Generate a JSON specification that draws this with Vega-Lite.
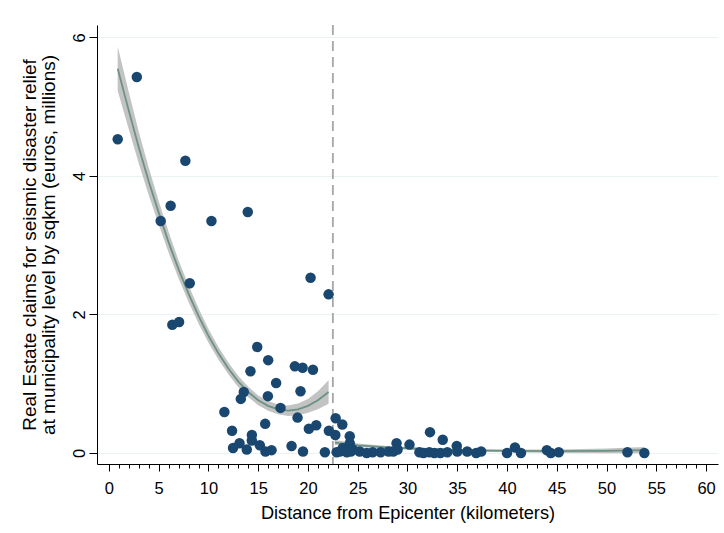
{
  "$schema": "https://vega.github.io/schema/vega-lite/v6.json",
  "width": 621,
  "height": 439,
  "autosize": {"type": "none"},
  "padding": {"left": 97, "top": 25, "right": 6, "bottom": 69},
  "background": "white",
  "config": {"view": {"stroke": null}, "font": "Liberation Sans"},
  "datasets": {
    "pts": [
      {"x":0.88,"y":4.53},{"x":2.8,"y":5.43},{"x":5.2,"y":3.35},{"x":6.2,"y":3.57},{"x":7.68,"y":4.22},
      {"x":10.3,"y":3.35},{"x":13.95,"y":3.48},{"x":8.12,"y":2.45},{"x":6.37,"y":1.85},{"x":7.05,"y":1.89},
      {"x":20.26,"y":2.53},{"x":22.07,"y":2.29},{"x":14.9,"y":1.53},{"x":16.0,"y":1.34},{"x":14.22,"y":1.18},
      {"x":18.68,"y":1.25},{"x":19.46,"y":1.23},{"x":20.5,"y":1.2},{"x":16.8,"y":1.01},{"x":13.55,"y":0.88},
      {"x":13.25,"y":0.78},{"x":15.97,"y":0.82},{"x":19.25,"y":0.89},{"x":17.24,"y":0.65},{"x":11.6,"y":0.59},
      {"x":18.95,"y":0.51},{"x":15.7,"y":0.42},{"x":20.09,"y":0.35},{"x":20.83,"y":0.4},{"x":12.37,"y":0.32},
      {"x":14.36,"y":0.26},{"x":14.36,"y":0.18},{"x":13.12,"y":0.14},{"x":12.47,"y":0.07},{"x":13.85,"y":0.05},
      {"x":15.16,"y":0.11},{"x":15.73,"y":0.02},{"x":16.34,"y":0.04},{"x":18.35,"y":0.1},{"x":19.5,"y":0.02},
      {"x":22.1,"y":0.32},{"x":22.78,"y":0.5},{"x":23.45,"y":0.41},{"x":22.75,"y":0.26},{"x":21.7,"y":0.01},
      {"x":22.88,"y":0.01},{"x":24.2,"y":0.24},{"x":24.2,"y":0.14},{"x":23.5,"y":0.07},{"x":23.2,"y":0.02},
      {"x":24.5,"y":0.05},{"x":23.9,"y":0.01},{"x":24.3,"y":0.02},{"x":25.2,"y":0.02},{"x":25.9,"y":0.0},
      {"x":26.5,"y":0.01},{"x":27.3,"y":0.01},{"x":28.1,"y":0.02},{"x":28.57,"y":0.02},{"x":28.9,"y":0.14},
      {"x":29.0,"y":0.05},{"x":30.2,"y":0.12},{"x":31.2,"y":0.01},{"x":31.6,"y":0.0},{"x":32.26,"y":0.3},
      {"x":32.2,"y":0.01},{"x":32.7,"y":0.0},{"x":33.54,"y":0.19},{"x":33.3,"y":0.0},{"x":34.0,"y":0.01},
      {"x":34.95,"y":0.1},{"x":35.0,"y":0.02},{"x":36.0,"y":0.02},{"x":36.9,"y":0.0},{"x":37.4,"y":0.02},
      {"x":40.0,"y":0.0},{"x":40.8,"y":0.08},{"x":41.4,"y":0.0},{"x":44.0,"y":0.04},{"x":44.4,"y":0.0},
      {"x":45.2,"y":0.01},{"x":52.1,"y":0.01},{"x":53.8,"y":0.0}
    ],
    "fit": [
      {"seg":"L","x":0.88,"fit":5.55,"lo":5.23,"hi":5.87},
      {"seg":"L","x":2,"fit":4.94,"lo":4.67,"hi":5.21},
      {"seg":"L","x":3,"fit":4.41,"lo":4.18,"hi":4.64},
      {"seg":"L","x":4,"fit":3.92,"lo":3.72,"hi":4.12},
      {"seg":"L","x":5,"fit":3.47,"lo":3.30,"hi":3.64},
      {"seg":"L","x":6,"fit":3.04,"lo":2.89,"hi":3.19},
      {"seg":"L","x":7,"fit":2.65,"lo":2.52,"hi":2.78},
      {"seg":"L","x":8,"fit":2.30,"lo":2.18,"hi":2.42},
      {"seg":"L","x":9,"fit":1.98,"lo":1.87,"hi":2.09},
      {"seg":"L","x":10,"fit":1.69,"lo":1.59,"hi":1.79},
      {"seg":"L","x":11,"fit":1.44,"lo":1.35,"hi":1.53},
      {"seg":"L","x":12,"fit":1.22,"lo":1.135,"hi":1.305},
      {"seg":"L","x":13,"fit":1.03,"lo":0.95,"hi":1.11},
      {"seg":"L","x":14,"fit":0.88,"lo":0.805,"hi":0.955},
      {"seg":"L","x":15,"fit":0.76,"lo":0.69,"hi":0.83},
      {"seg":"L","x":16,"fit":0.68,"lo":0.61,"hi":0.75},
      {"seg":"L","x":17,"fit":0.63,"lo":0.56,"hi":0.70},
      {"seg":"L","x":18,"fit":0.61,"lo":0.535,"hi":0.685},
      {"seg":"L","x":19,"fit":0.63,"lo":0.545,"hi":0.715},
      {"seg":"L","x":20,"fit":0.68,"lo":0.58,"hi":0.78},
      {"seg":"L","x":21,"fit":0.76,"lo":0.63,"hi":0.89},
      {"seg":"L","x":22.07,"fit":0.88,"lo":0.71,"hi":1.05},
      {"seg":"R","x":22.7,"fit":0.15,"lo":0.115,"hi":0.185},
      {"seg":"R","x":25,"fit":0.11,"lo":0.085,"hi":0.135},
      {"seg":"R","x":28,"fit":0.08,"lo":0.06,"hi":0.10},
      {"seg":"R","x":31,"fit":0.06,"lo":0.042,"hi":0.078},
      {"seg":"R","x":35,"fit":0.04,"lo":0.022,"hi":0.058},
      {"seg":"R","x":40,"fit":0.03,"lo":0.01,"hi":0.05},
      {"seg":"R","x":45,"fit":0.025,"lo":0.0,"hi":0.05},
      {"seg":"R","x":50,"fit":0.03,"lo":-0.005,"hi":0.065},
      {"seg":"R","x":53.8,"fit":0.04,"lo":-0.005,"hi":0.085}
    ],
    "cut": [{"x": 22.5}]
  },
  "encoding": {
    "x": {
      "field": "x", "type": "quantitative",
      "scale": {"domain": [-1.2, 61.2], "nice": false, "zero": false},
      "axis": {
        "title": "Distance from Epicenter (kilometers)",
        "values": [0,1,2,3,4,5,6,7,8,9,10,11,12,13,14,15,16,17,18,19,20,21,22,23,24,25,26,27,28,29,30,31,32,33,34,35,36,37,38,39,40,41,42,43,44,45,46,47,48,49,50,51,52,53,54,55,56,57,58,59,60],
        "labelExpr": "datum.value % 5 === 0 ? datum.label : ''",
        "tickSize": {"condition": {"test": "datum.value % 5 === 0", "value": 7}, "value": 4},
        "grid": false,
        "domainColor": "#000000", "domainWidth": 1,
        "tickColor": "#000000", "tickWidth": 1,
        "labelColor": "#000000", "labelFontSize": 16.5, "labelFont": "Liberation Sans",
        "labelPadding": 9, "labelFlush": false, "labelOverlap": false,
        "titleColor": "#000000", "titleFontSize": 18.2, "titleFont": "Liberation Sans",
        "titleFontWeight": "normal", "titlePadding": 8
      }
    }
  },
  "layer": [
    {
      "data": {"name": "fit"},
      "mark": {"type": "area", "color": "#bdbdbd", "opacity": 0.9},
      "encoding": {
        "y": {"field": "lo", "type": "quantitative", "scale": {"domain": [-0.16, 6.18], "nice": false, "zero": false}},
        "y2": {"field": "hi"},
        "detail": {"field": "seg"}
      }
    },
    {
      "data": {"name": "fit"},
      "mark": {"type": "line", "color": "#6b9383", "strokeWidth": 1.8},
      "encoding": {
        "y": {"field": "fit", "type": "quantitative", "scale": {"domain": [-0.16, 6.18], "nice": false, "zero": false}},
        "detail": {"field": "seg"}
      }
    },
    {
      "data": {"name": "cut"},
      "mark": {"type": "rule", "color": "#a6a6a6", "strokeWidth": 1.8, "strokeDash": [10, 6]},
      "encoding": {}
    },
    {
      "data": {"name": "pts"},
      "mark": {"type": "circle", "color": "#1a476f", "opacity": 1, "size": 110},
      "encoding": {
        "y": {
          "field": "y", "type": "quantitative",
          "scale": {"domain": [-0.16, 6.18], "nice": false, "zero": false},
          "axis": {
            "title": ["Real Estate claims for seismic disaster relief", "at municipality level by sqkm (euros, millions)"],
            "values": [0, 2, 4, 6],
            "format": "d",
            "grid": true, "gridColor": "#eaf2f3", "gridWidth": 1,
            "domainColor": "#000000", "domainWidth": 1,
            "tickColor": "#000000", "tickWidth": 1, "tickSize": 8,
            "labelAngle": -90, "labelAlign": "center", "labelBaseline": "bottom",
            "labelColor": "#000000", "labelFontSize": 16.5, "labelFont": "Liberation Sans", "labelPadding": 2,
            "labelFlush": false, "labelOverlap": false,
            "titleColor": "#000000", "titleFontSize": 19, "titleFont": "Liberation Sans",
            "titleFontWeight": "normal", "titlePadding": 13, "titleLineHeight": 19
          }
        }
      }
    }
  ]
}
